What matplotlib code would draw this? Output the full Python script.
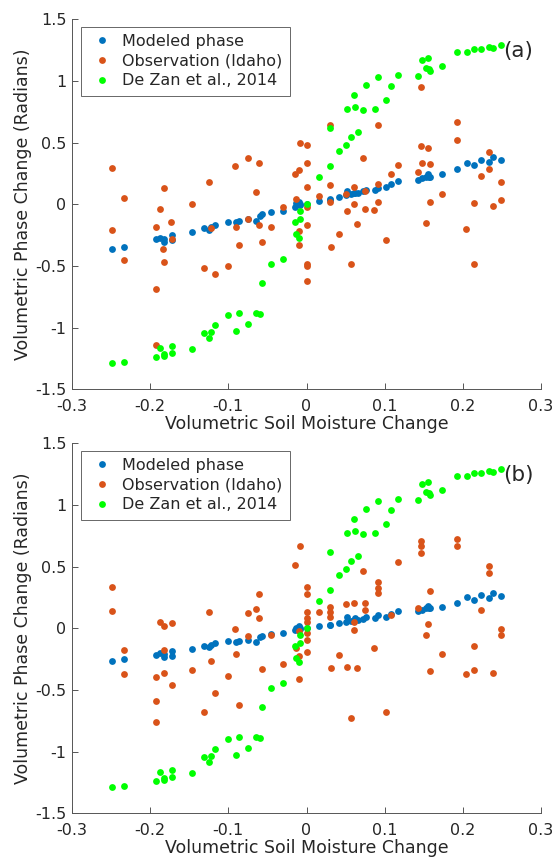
import matplotlib
matplotlib.use("Agg")
import matplotlib.pyplot as plt
from matplotlib.ticker import FixedLocator, FuncFormatter

plt.rcParams['font.family'] = ['DejaVu Sans']
plt.rcParams['axes.unicode_minus'] = False

# Soil moisture change values (shared by model and De Zan curves)
x_model = [-0.2485, -0.2332, -0.1922, -0.1876, -0.1829, -0.182, -0.1726, -0.1718, -0.147, -0.1308,
           -0.1244, -0.1219, -0.1172, -0.1006, -0.0908, -0.0861, -0.075, -0.0643, -0.0601, -0.0567,
           -0.0452, -0.0298, -0.015, -0.0137, -0.0098, -0.0086, -0.0077, 0.0, 0.0166, 0.0307,
           0.0307, 0.0413, 0.0507, 0.0567, 0.0656, 0.0516, 0.0618, 0.0725, 0.0614, 0.0759,
           0.087, 0.0917, 0.1019, 0.1087, 0.1176, 0.1424, 0.1475, 0.156, 0.1535, 0.1564,
           0.1586, 0.1739, 0.1927, 0.205, 0.2144, 0.2238, 0.234, 0.2387, 0.2485]

dezan = [-1.29, -1.28, -1.237, -1.166, -1.229, -1.212, -1.207, -1.145, -1.172, -1.047,
         -1.08, -1.037, -0.982, -0.901, -1.031, -0.882, -0.969, -0.885, -0.891, -0.636,
         -0.48, -0.442, -0.147, -0.239, -0.272, -0.053, -0.12, 0.0, 0.223, 0.307,
         0.62, 0.434, 0.477, 0.545, 0.583, 0.775, 0.791, 0.767, 0.886, 0.964,
         0.775, 1.029, 0.843, 0.959, 1.05, 1.042, 1.169, 1.183, 1.107, 1.094,
         1.078, 1.123, 1.234, 1.237, 1.259, 1.259, 1.278, 1.27, 1.289]

model_a = [-0.361, -0.345, -0.285, -0.271, -0.304, -0.28, -0.247, -0.29, -0.225, -0.193,
           -0.207, -0.182, -0.166, -0.144, -0.144, -0.134, -0.12, -0.136, -0.093, -0.082,
           -0.061, -0.053, -0.023, 0.007, 0.02, 0.0, -0.006, 0.002, 0.026, 0.037,
           0.04, 0.056, 0.072, 0.083, 0.088, 0.107, 0.093, 0.107, 0.09, 0.118,
           0.115, 0.134, 0.137, 0.161, 0.191, 0.199, 0.215, 0.242, 0.223, 0.225,
           0.223, 0.242, 0.283, 0.334, 0.318, 0.358, 0.345, 0.38, 0.361]

model_b = [-0.262, -0.251, -0.213, -0.2, -0.235, -0.21, -0.181, -0.227, -0.167, -0.14,
           -0.151, -0.132, -0.122, -0.105, -0.113, -0.105, -0.094, -0.113, -0.073, -0.062,
           -0.046, -0.04, -0.016, 0.005, 0.02, 0.0, -0.005, 0.002, 0.016, 0.024,
           0.026, 0.041, 0.049, 0.057, 0.065, 0.089, 0.084, 0.079, 0.07, 0.089,
           0.084, 0.109, 0.092, 0.119, 0.144, 0.138, 0.15, 0.178, 0.162, 0.165,
           0.162, 0.17, 0.208, 0.257, 0.23, 0.271, 0.246, 0.287, 0.265]

# Observations (Idaho), panel (a)
obs_a_x = [-0.2485, -0.2485, -0.2332, -0.2332, -0.1922, -0.1922, -0.1922, -0.1876, -0.1829, -0.1833,
           -0.182, -0.1731, -0.1722, -0.147, -0.1248, -0.1308, -0.1172, -0.1219, -0.1006, -0.0912,
           -0.0908, -0.0861, -0.075, -0.075, -0.0609, -0.0647, -0.0609, -0.0563, -0.0452, -0.0298,
           -0.015, -0.0099, -0.0081, -0.0137, -0.0102, -0.0094, 0.0, 0.0, 0.0, 0.0,
           0.0, 0.0, 0.0, 0.0, 0.0166, 0.0303, 0.0307, 0.0303, 0.0311, 0.0413,
           0.0503, 0.0516, 0.0563, 0.0614, 0.0614, 0.0652, 0.0721, 0.0754, 0.0754, 0.0865,
           0.0912, 0.0912, 0.0912, 0.1014, 0.1087, 0.1172, 0.1424, 0.1463, 0.1471, 0.1475,
           0.1535, 0.156, 0.1586, 0.1577, 0.1739, 0.1927, 0.1927, 0.2046, 0.2144, 0.2144,
           0.2238, 0.2336, 0.2336, 0.2387, 0.2485, 0.2485]
obs_a_y = [0.294, -0.207, 0.048, -0.45, -0.188, -0.688, -1.142, -0.036, 0.134, -0.366,
           -0.469, -0.147, -0.282, 0.002, 0.18, -0.52, -0.566, -0.196, -0.501, 0.31,
           -0.188, -0.328, 0.377, -0.123, 0.332, 0.097, -0.166, -0.309, -0.188, -0.02,
           0.242, 0.28, 0.496, 0.045, -0.22, -0.326, 0.477, 0.332, 0.142, -0.025,
           -0.166, -0.48, -0.5, -0.62, 0.066, 0.64, 0.156, 0.015, -0.347, -0.239,
           0.085, -0.053, -0.48, 0.142, 0.004, -0.158, 0.375, 0.107, -0.042, -0.05,
           0.642, 0.166, 0.02, -0.293, 0.242, 0.315, 0.258, 0.474, 0.95, 0.332,
           -0.15, 0.456, 0.326, 0.015, 0.083, 0.664, 0.521, -0.204, 0.012, -0.48,
           0.231, 0.426, 0.285, -0.015, 0.183, 0.034]

# Observations (Idaho), panel (b)
obs_b_x = [-0.2485, -0.2485, -0.2332, -0.2332, -0.1922, -0.1922, -0.1922, -0.1876, -0.1829, -0.1829,
           -0.182, -0.1726, -0.1718, -0.147, -0.1248, -0.1308, -0.1219, -0.1172, -0.1006, -0.0912,
           -0.0908, -0.0861, -0.075, -0.075, -0.0647, -0.0609, -0.0609, -0.0563, -0.0452, -0.0298,
           -0.015, -0.0081, -0.0098, -0.014, -0.0102, -0.0094, 0.0, 0.0, 0.0, 0.0,
           0.0, 0.0, 0.0, 0.0, 0.0166, 0.0303, 0.0303, 0.0303, 0.0311, 0.0413,
           0.0503, 0.0516, 0.0563, 0.0614, 0.0614, 0.0614, 0.0652, 0.0721, 0.0754, 0.0754,
           0.0865, 0.0912, 0.0912, 0.0912, 0.1014, 0.1087, 0.1172, 0.1424, 0.1467, 0.1467,
           0.1467, 0.155, 0.1535, 0.1577, 0.1586, 0.1735, 0.1927, 0.1927, 0.2046, 0.2144,
           0.2144, 0.2238, 0.2336, 0.2336, 0.2387, 0.2485, 0.2485]
obs_b_y = [0.336, 0.141, -0.178, -0.373, -0.394, -0.589, -0.762, 0.052, 0.016, -0.178,
           -0.365, 0.046, -0.459, -0.337, 0.135, -0.675, -0.264, -0.521, -0.386, -0.008,
           -0.205, -0.621, 0.127, -0.065, 0.154, 0.281, 0.087, -0.329, -0.054, -0.292,
           0.511, 0.671, -0.024, -0.159, -0.227, -0.414, 0.333, 0.276, 0.135, 0.081,
           0.052, -0.037, -0.092, -0.195, 0.135, 0.173, 0.135, 0.095, -0.324, -0.219,
           0.195, -0.311, -0.73, 0.208, 0.052, -0.011, -0.319, 0.465, 0.203, 0.149,
           -0.162, 0.376, 0.33, 0.284, -0.676, 0.109, 0.535, 0.165, 0.711, 0.671,
           0.614, 0.036, -0.057, -0.346, 0.303, -0.208, 0.725, 0.668, -0.37, -0.146,
           -0.341, 0.149, 0.506, 0.449, -0.365, -0.005, -0.057]

x_ticks = [-0.3, -0.2, -0.1, 0, 0.1, 0.2, 0.3]
y_ticks = [-1.5, -1, -0.5, 0, 0.5, 1, 1.5]
series_labels = ['Modeled phase', 'Observation (Idaho)', 'De Zan et al., 2014']
panel_labels = ['(a)', '(b)']

C_BLUE = '#0072BD'
C_ORANGE = '#D95319'
C_GREEN = '#00FF00'
C_AX = '#262626'

fig = plt.figure(figsize=(5.57, 8.59), dpi=100)
W, H = 557.0, 859.0
boxes = [(72, 19.3, 541, 389.3), (72, 443.3, 541, 813.3)]

def fmt(v, pos):
    return '%g' % round(v, 3)

panels = [(model_a, obs_a_x, obs_a_y), (model_b, obs_b_x, obs_b_y)]
for i, (box, (mod, ox, oy)) in enumerate(zip(boxes, panels)):
    l, t, r, b = box
    ax = fig.add_axes([l / W, 1 - b / H, (r - l) / W, (b - t) / H])
    ms = 4.9
    ax.plot(x_model, mod, 'o', color=C_BLUE, ms=ms, mec='none', label=series_labels[0], zorder=3)
    ax.plot(ox, oy, 'o', color=C_ORANGE, ms=ms, mec='none', label=series_labels[1], zorder=3)
    ax.plot(x_model, dezan, 'o', color=C_GREEN, ms=ms, mec='none', label=series_labels[2], zorder=3)
    ax.set_xlim(-0.3, 0.3)
    ax.set_ylim(-1.5, 1.5)
    ax.xaxis.set_major_locator(FixedLocator(x_ticks))
    ax.yaxis.set_major_locator(FixedLocator(y_ticks))
    ax.xaxis.set_major_formatter(FuncFormatter(fmt))
    ax.yaxis.set_major_formatter(FuncFormatter(fmt))
    for s in ['top', 'right']:
        ax.spines[s].set_visible(False)
    for s in ['left', 'bottom']:
        ax.spines[s].set_color('#555555')
        ax.spines[s].set_linewidth(0.7)
    ax.tick_params(direction='in', length=4, width=0.7, color='#555555',
                   labelsize=11.5, labelcolor=C_AX)
    ax.tick_params(axis='x', pad=7)
    ax.tick_params(axis='y', pad=4)
    ax.set_xlabel('Volumetric Soil Moisture Change', fontsize=12.5, color=C_AX, labelpad=1)
    ax.set_ylabel('Volumetric Phase Change (Radians)', fontsize=12.5, color=C_AX, labelpad=2)
    leg = ax.legend(loc='upper left', bbox_to_anchor=(0.0186, 0.98), borderaxespad=0,
                    fontsize=11.5, frameon=True, fancybox=False, handletextpad=0.43,
                    borderpad=0.45, labelspacing=0.3, handlelength=1.72, markerscale=1.0)
    leg.get_frame().set_edgecolor('#404040')
    leg.get_frame().set_linewidth(0.7)
    for txt in leg.get_texts():
        txt.set_color(C_AX)
    ax.text(0.251, 1.24, panel_labels[i], fontsize=15.5, ha='left', va='center', color=C_AX)

fig.savefig('out.png', dpi=100)
